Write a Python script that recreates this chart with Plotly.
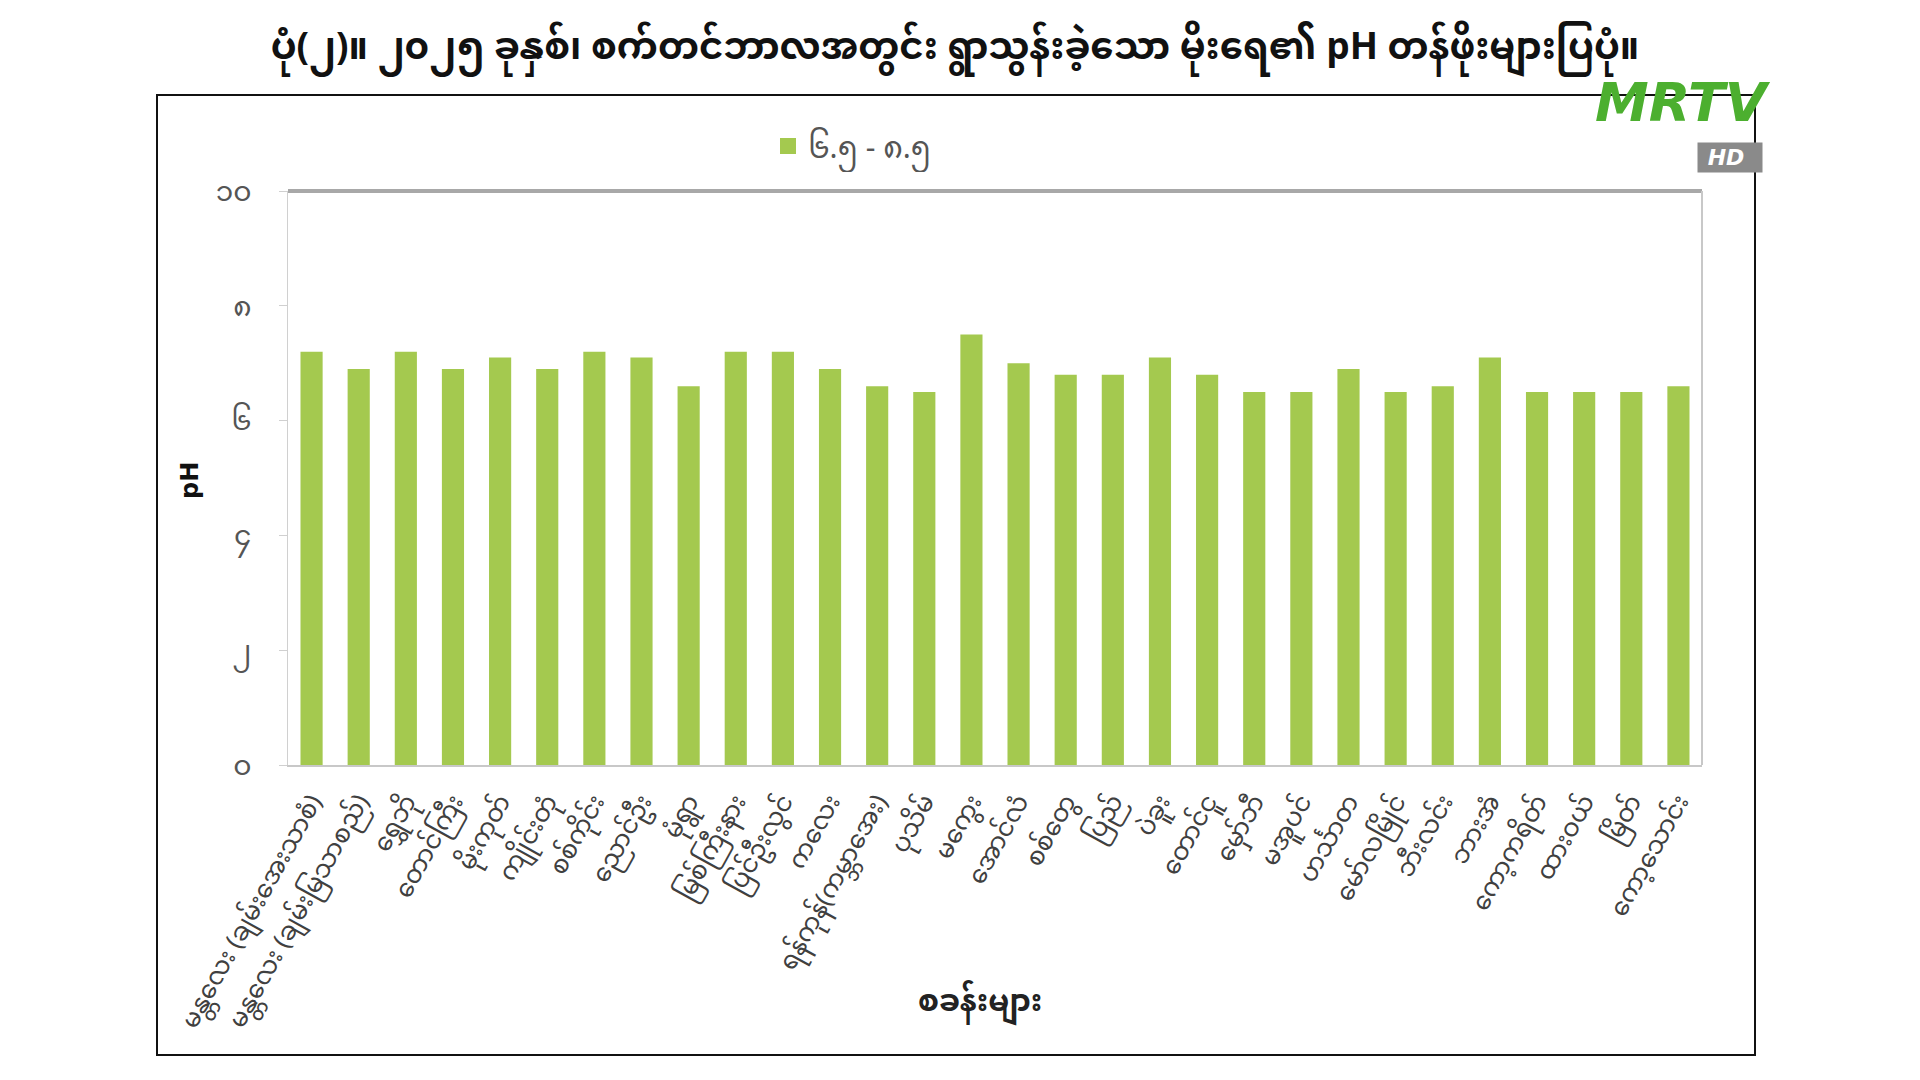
import plotly.graph_objects as go

stations = [
    "မန္တလေး (ချမ်းအေးသာစံ)", "မန္တလေး (ချမ်းမြသာစည်)", "ရွှေဘို", "တောင်ကြီး", "မိုးကုတ်",
    "ကျိုင်းတုံ", "စစ်ကိုင်း", "ညောင်ဦး", "မုံရွာ", "မြစ်ကြီးနား",
    "ပြင်ဦးလွင်", "ကလေး", "ရန်ကုန်(ကမ္ဘာအေး)", "ပုသိမ်", "မကွေး",
    "အောင်လံ", "စစ်တွေ", "ပြည်", "ပဲခူး", "တောင်ငူ",
    "မှော်ဘီ", "မအူပင်", "ဟင်္သာတ", "မော်လမြိုင်", "ဘီးလင်း",
    "ဘားအံ", "ကော့ကရိတ်", "ထားဝယ်", "မြိတ်", "ကော့သောင်း",
]
ph_values = [
    7.2, 6.9, 7.2, 6.9, 7.1,
    6.9, 7.2, 7.1, 6.6, 7.2,
    7.2, 6.9, 6.6, 6.5, 7.5,
    7.0, 6.8, 6.8, 7.1, 6.8,
    6.5, 6.5, 6.9, 6.5, 6.6,
    7.1, 6.5, 6.5, 6.5, 6.6,
]
series_name = "၆.၅ - ၈.၅"
y_tickvals = [0, 2, 4, 6, 8, 10]
y_ticktext = ["၀", "၂", "၄", "၆", "၈", "၁၀"]
title_text = "ပုံ(၂)။ ၂၀၂၅ ခုနှစ်၊ စက်တင်ဘာလအတွင်း ရွာသွန်းခဲ့သော မိုးရေ၏ pH တန်ဖိုးများပြပုံ။"
x_title = "စခန်းများ"
y_title = "pH"

BAR_COLOR = "#a4c94f"
# page has an 8px body margin; figure drawn 8px in from top-left
OFF = 8
W, H = 1920 - OFF, 1080 - OFF
L, R, T, B = 288 - OFF, W - (1702 - OFF), 191 - OFF, H - (765 - OFF)
FONT = "Noto Sans Myanmar, Padauk, Myanmar Text, Noto Sans, DejaVu Sans, sans-serif"

def px_x(px):  # screen px -> paper x
    return (px - OFF - L) / (W - L - R)

def px_y(py):  # screen px -> paper y
    return (H - B - (py - OFF)) / (H - T - B)

fig = go.Figure()
fig.add_trace(go.Bar(
    x=stations, y=ph_values, name=series_name,
    marker=dict(color=BAR_COLOR, line=dict(width=0)),
    showlegend=False,
))
# legend entry with a large square key
fig.add_trace(go.Scatter(
    x=[None], y=[None], mode="markers", name=series_name,
    marker=dict(symbol="square", size=26, color=BAR_COLOR),
    showlegend=True,
))

fig.update_layout(
    width=W, height=H,
    paper_bgcolor="white", plot_bgcolor="white",
    margin=dict(l=L, r=R, t=T, b=B, autoexpand=False),
    font=dict(family=FONT, color="#404040"),
    bargap=0.53,
    title=dict(text="<b>" + title_text + "</b>", x=(955 - OFF) / W, xref="container", xanchor="center",
               y=1 - (46 - OFF) / H, yref="container", yanchor="middle",
               font=dict(size=37, color="#111111", family=FONT)),
    legend=dict(orientation="h", x=px_x(768), xanchor="left", y=px_y(146), yanchor="middle",
                font=dict(size=30, color="#555555"), itemsizing="trace",
                bgcolor="rgba(0,0,0,0)"),
    showlegend=True,
)

fig.update_xaxes(
    tickangle=-61, tickfont=dict(size=25, color="#404040"),
    ticklabelstandoff=10,
    showline=True, linecolor="#c8c8c8", linewidth=2, mirror=False,
    showgrid=False, ticks="",
)
fig.update_yaxes(
    range=[0, 10], tickvals=y_tickvals, ticktext=y_ticktext,
    tickfont=dict(size=28, color="#555555"),
    ticklabelstandoff=22,
    showline=True, linecolor="#d0d0d0", linewidth=1,
    ticks="outside", ticklen=8, tickcolor="#d0d0d0",
    showgrid=False, zeroline=False,
)

shapes = [
    dict(type="rect", xref="paper", yref="paper",
         x0=px_x(157), x1=px_x(1755), y0=px_y(1055), y1=px_y(95),
         line=dict(color="#111111", width=2), fillcolor="rgba(0,0,0,0)", layer="below"),
    dict(type="line", xref="paper", yref="paper", x0=0, x1=1, y0=1, y1=1,
         line=dict(color="#a8a8a8", width=4)),
    dict(type="line", xref="paper", yref="paper", x0=1, x1=1, y0=0, y1=1,
         line=dict(color="#c8c8c8", width=2)),
]
fig.update_layout(shapes=shapes)

# axis titles
fig.add_annotation(text="<b>" + x_title + "</b>", xref="paper", yref="paper",
                   x=px_x(980), y=px_y(1004), xanchor="center", yanchor="middle",
                   showarrow=False, font=dict(size=30, color="#222222", family=FONT))
fig.add_annotation(text="<b>" + y_title + "</b>", xref="paper", yref="paper",
                   x=px_x(190), y=px_y(481), xanchor="center", yanchor="middle", textangle=-90,
                   showarrow=False, font=dict(size=24, color="#111111", family="DejaVu Sans"))

# broadcaster logo
fig.add_annotation(text="<b><i>MRTV</i></b>", xref="paper", yref="paper",
                   x=px_x(1683), y=px_y(103), xanchor="center", yanchor="middle",
                   showarrow=False, font=dict(size=54, color="#4caf2f", family="DejaVu Sans"))
fig.add_annotation(text="<b><i>&nbsp;HD&nbsp;&nbsp;</i></b>", xref="paper", yref="paper",
                   x=px_x(1730), y=px_y(158), xanchor="center", yanchor="middle",
                   showarrow=False, bgcolor="#8a8a8a", borderpad=2,
                   font=dict(size=22, color="white", family="DejaVu Sans"))

fig.write_html("out.html")
